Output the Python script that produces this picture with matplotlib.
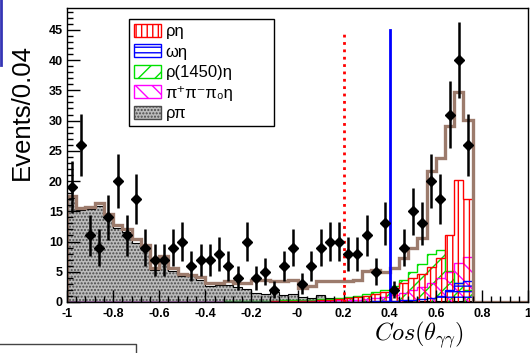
import numpy as np
import matplotlib
matplotlib.use('Agg')
import matplotlib.pyplot as plt
from matplotlib.patches import Patch
from matplotlib.lines import Line2D
from matplotlib.ticker import MultipleLocator, FixedLocator, FixedFormatter

plt.rcParams['font.family'] = ['Liberation Sans', 'DejaVu Sans']
plt.rcParams['mathtext.fontset'] = 'cm'
plt.rcParams['hatch.linewidth'] = 1.0

# binning: 50 bins of 0.04 in cos(theta)
x_lo, x_hi, n_bins = -1.0, 1.0, 50

# data (events per bin), bins beyond 0.76 are empty
data_counts = [19, 26, 11, 9, 14, 20, 11, 17, 9, 7,
               7, 9, 10, 6, 7, 7, 8, 6, 4, 10,
               4, 5, 2, 6, 9, 3, 6, 9, 10, 10,
               8, 8, 11, 5, 13, 2, 9, 15, 13, 20,
               17, 31, 40, 26, 0, 0, 0, 0, 0, 0]

# total MC (brown)
total_mc = [17.6, 15.6, 15.7, 16.3, 14.6, 12.8, 12.0, 10.4, 9.4, 5.7,
            7.6, 5.6, 4.6, 4.5, 4.2, 3.2, 3.1, 3.4, 3.1, 3.1,
            3.6, 3.6, 3.4, 3.4, 3.6, 2.3, 2.6, 3.4, 3.4, 3.4,
            3.5, 3.6, 5.2, 5.3, 4.9, 5.6, 7.3, 8.9, 10.6, 21.6,
            23.8, 29.1, 34.7, 30.1, 0, 0, 0, 0, 0, 0]

rho_pi = [17.2, 15.2, 15.3, 15.9, 14.1, 12.3, 11.5, 9.8, 9.0, 5.3,
          7.1, 5.2, 4.3, 4.3, 3.7, 2.6, 2.8, 2.8, 2.4, 2.1,
          1.5, 1.3, 1.7, 1.2, 1.3, 0.9, 0.7, 1.1, 0.6, 0.4,
          0.3, 0.3, 0.2, 0.2, 0.15, 0.1, 0.1, 0.1, 0.1, 0.1,
          0.1, 0.1, 0.1, 0.1, 0, 0, 0, 0, 0, 0]

rho_eta = [0, 0, 0, 0, 0, 0, 0, 0, 0, 0,
           0, 0, 0, 0, 0, 0, 0, 0, 0, 0,
           0, 0, 0.1, 0.1, 0.15, 0.2, 0.2, 0.3, 0.35, 0.45,
           0.6, 0.8, 1.0, 1.3, 1.7, 2.3, 3.1, 3.9, 4.7, 5.8,
           7.2, 11.1, 20.2, 17.0, 0, 0, 0, 0, 0, 0]

omega_eta = [0, 0, 0, 0, 0, 0, 0, 0, 0, 0,
             0, 0, 0, 0, 0, 0, 0, 0, 0, 0,
             0, 0, 0, 0, 0, 0, 0, 0, 0, 0,
             0, 0, 0, 0.1, 0.15, 0.2, 0.3, 0.4, 0.5, 0.7,
             1.0, 2.0, 3.1, 3.4, 0, 0, 0, 0, 0, 0]

rho1450_eta = [0, 0, 0, 0, 0, 0, 0, 0, 0, 0,
               0, 0, 0, 0, 0, 0.05, 0.07, 0.09, 0.11, 0.13,
               0.15, 0.17, 0.2, 0.25, 0.3, 0.35, 0.4, 0.48, 0.55, 0.65,
               0.8, 1.0, 1.3, 1.6, 2.0, 2.7, 3.7, 4.9, 6.3, 8.0,
               8.6, 5.2, 3.2, 2.0, 0, 0, 0, 0, 0, 0]

pipipi0_eta = [0, 0, 0, 0, 0, 0, 0, 0, 0, 0,
               0, 0, 0, 0, 0, 0, 0, 0, 0, 0,
               0, 0, 0, 0, 0.05, 0.1, 0.1, 0.15, 0.2, 0.25,
               0.3, 0.4, 0.5, 0.7, 0.9, 1.2, 1.5, 2.0, 2.5, 3.1,
               4.0, 4.9, 6.4, 7.4, 0, 0, 0, 0, 0, 0]

x_tick_vals = [-1, -0.8, -0.6, -0.4, -0.2, 0, 0.2, 0.4, 0.6, 0.8, 1]
x_tick_labels = ['-1', '-0.8', '-0.6', '-0.4', '-0.2', '-0', '0.2', '0.4', '0.6', '0.8', '1']

legend_labels = ['ρη', 'ωη', 'ρ(1450)η', 'π⁺π⁻π₀η', 'ρπ']

# cut lines
cut_rho_x, cut_rho_h = 0.2, 44.7
cut_omega_x, cut_omega_h = 0.4, 45.0


def main():
    edges = np.linspace(x_lo, x_hi, n_bins + 1)
    centers = 0.5 * (edges[:-1] + edges[1:])
    data = np.array(data_counts, dtype=float)

    fig = plt.figure(figsize=(5.3, 3.53), dpi=100)
    ax = fig.add_axes([67 / 530, 1 - 302 / 353, 461 / 530, 294.5 / 353])

    # rho pi, grey dotted fill
    ax.stairs(rho_pi, edges, fill=True, facecolor='#bcbcbc', edgecolor='#4a4a4a',
              hatch='.....', lw=0)
    ax.stairs(rho_pi, edges, color='black', lw=0.8)

    comps = [(rho1450_eta, '#00e000', '//'),
             (pipipi0_eta, '#ff00ff', '\\\\'),
             (rho_eta, 'red', '|||'),
             (omega_eta, 'blue', '---')]
    for vals, col, hat in comps:
        ax.stairs(vals, edges, fill=True, facecolor='none', edgecolor=col,
                  hatch=hat, lw=1)

    ax.stairs(total_mc, edges, color='#9c7b6c', lw=2.4)

    m = data > 0
    ax.errorbar(centers[m], data[m], yerr=np.sqrt(data[m]), fmt='D', color='black',
                ms=5, elinewidth=1.8, capsize=0)

    ax.plot([cut_rho_x, cut_rho_x], [0, cut_rho_h], color='red', ls=':', lw=2)
    ax.plot([cut_omega_x, cut_omega_x], [0, cut_omega_h], color='blue', lw=2)

    ax.set_xlim(x_lo, x_hi)
    ax.set_ylim(0, 48.7)
    ax.xaxis.set_major_locator(FixedLocator(x_tick_vals))
    ax.xaxis.set_major_formatter(FixedFormatter(x_tick_labels))
    ax.xaxis.set_minor_locator(MultipleLocator(0.04))
    ax.yaxis.set_major_locator(MultipleLocator(5))
    ax.yaxis.set_minor_locator(MultipleLocator(1))
    ax.tick_params(which='both', direction='in', top=False, right=False)
    ax.tick_params(which='major', length=9, width=1, labelsize=9)
    ax.tick_params(axis='x', which='major', pad=4)
    ax.tick_params(axis='y', which='major', pad=3)
    ax.tick_params(which='minor', length=4.5, width=1)
    for lab in ax.get_xticklabels() + ax.get_yticklabels():
        lab.set_fontweight('bold')
    for sp in ax.spines.values():
        sp.set_linewidth(1)

    handles = [Patch(facecolor='none', edgecolor='red', hatch='|||'),
               Patch(facecolor='none', edgecolor='blue', hatch='---'),
               Patch(facecolor='none', edgecolor='#00e000', hatch='//'),
               Patch(facecolor='none', edgecolor='#ff00ff', hatch='\\\\'),
               Patch(facecolor='#bcbcbc', edgecolor='#4a4a4a', hatch='.....')]
    leg = ax.legend(handles, legend_labels, loc='upper left',
                    bbox_to_anchor=(0.1345, 0.591, 0.3145, 0.37), mode='expand',
                    fontsize=12, handlelength=1.6, handleheight=0.8,
                    labelspacing=0.32, handletextpad=0.3, borderpad=0.3,
                    borderaxespad=0, fancybox=False, framealpha=1)
    leg.get_frame().set_edgecolor('black')
    leg.get_frame().set_linewidth(1)

    fig.text(22 / 530, 1 - 112 / 353, 'Events/0.04', rotation=90,
             ha='center', va='center', fontsize=18.5)
    fig.text(419 / 530, 1 - 335 / 353, r'$Cos(\theta_{\gamma\gamma})$',
             ha='center', va='center', fontsize=17.5)

    # page remnants around the cropped figure
    fig.add_artist(Line2D([1 / 530, 1 / 530], [1, 1 - 65 / 353], color='#3535b5',
                          lw=2, transform=fig.transFigure))
    fig.add_artist(Line2D([0, 136 / 530, 136 / 530], [1 - 344 / 353, 1 - 344 / 353, 0],
                          color='#444444', lw=1, transform=fig.transFigure))

    fig.savefig('out.png', dpi=100)


if __name__ == "__main__":
    main()
